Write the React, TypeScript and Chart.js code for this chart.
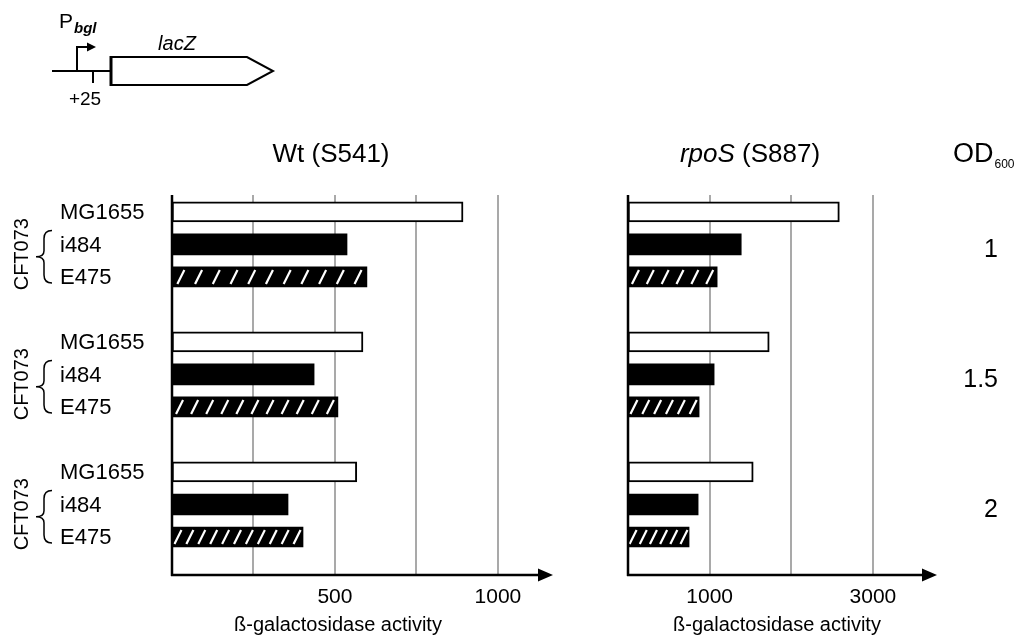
import { useEffect, useRef } from 'react';
import { Chart, registerables } from 'chart.js';

Chart.register(...registerables);

// ---------- data ----------
const strains = ['MG1655', 'i484', 'E475'];
const odLevels = ['1', '1.5', '2'];
const groupLabel = 'CFT073';

const wtMG1655 = [893, 586, 567];
const wtI484 = [537, 436, 356];
const wtE475 = [598, 509, 402];

const rpoSMG1655 = [2589, 1730, 1534];
const rpoSI484 = [1387, 1055, 859];
const rpoSE475 = [1092, 871, 748];

const wtTicks = [250, 500, 750, 1000];
const wtTickLabels = ['', '500', '', '1000'];
const rpoSTicks = [1000, 2000, 3000];
const rpoSTickLabels = ['1000', '', '3000'];

const wtTitle = 'Wt (S541)';
const rpoSTitleItalic = 'rpoS';
const rpoSTitleRest = ' (S887)';
const xTitle = 'ß-galactosidase activity';
const odTitle = 'OD';
const odSub = '600';

const FONT = '"Liberation Sans", Arial, sans-serif';

const slot = (g: number, s: number) => g * 4 + s;
const toPoints = (vals: number[], s: number) => vals.map((v, g) => ({ x: v, y: slot(g, s) }));

function makeDatasets(mg: number[], i4: number[], e4: number[]) {
  return [
    {
      label: strains[0], data: toPoints(mg, 0), backgroundColor: '#ffffff', borderColor: '#000000',
      borderWidth: 2, borderSkipped: false, grouped: false, barThickness: 20,
    },
    {
      label: strains[1], data: toPoints(i4, 1), backgroundColor: '#000000', borderColor: '#000000',
      borderWidth: 0, borderSkipped: false, grouped: false, barThickness: 21,
    },
    {
      label: strains[2], data: toPoints(e4, 2), backgroundColor: '#000000', borderColor: '#000000',
      borderWidth: 0, borderSkipped: false, grouped: false, barThickness: 20,
    },
  ];
}

function panelPlugin(cfg: { hatchCount: number; titleCx: number; left: boolean }) {
  return {
    id: 'panelDecor' + (cfg.left ? 'L' : 'R'),
    afterDatasetsDraw(chart: any) {
      const ctx = chart.ctx as CanvasRenderingContext2D;
      const area = chart.chartArea;
      const yScale = chart.scales.y;
      ctx.save();

      // hatch on E475 bars
      const meta = chart.getDatasetMeta(2);
      meta.data.forEach((el: any) => {
        const p = el.getProps(['x', 'y', 'base', 'height'], true);
        const x0 = Math.min(p.base, p.x);
        const len = Math.abs(p.x - p.base);
        const step = len / cfg.hatchCount;
        ctx.save();
        ctx.beginPath();
        ctx.rect(x0, p.y - p.height / 2, len, p.height);
        ctx.clip();
        ctx.strokeStyle = '#ffffff';
        ctx.lineWidth = 2.2;
        for (let i = 0; i < cfg.hatchCount; i++) {
          const cx = x0 + (i + 0.5) * step;
          ctx.beginPath();
          ctx.moveTo(cx - 3.5, p.y + 7);
          ctx.lineTo(cx + 3.5, p.y - 7);
          ctx.stroke();
        }
        ctx.restore();
      });

      // axes
      ctx.strokeStyle = '#000';
      ctx.fillStyle = '#000';
      ctx.lineWidth = 2.5;
      ctx.beginPath();
      ctx.moveTo(area.left, area.top);
      ctx.lineTo(area.left, area.bottom + 1);
      ctx.stroke();
      ctx.beginPath();
      ctx.moveTo(area.left - 1, area.bottom);
      ctx.lineTo(area.right - 12, area.bottom);
      ctx.stroke();
      ctx.beginPath();
      ctx.moveTo(area.right - 15, area.bottom - 6.5);
      ctx.lineTo(area.right, area.bottom);
      ctx.lineTo(area.right - 15, area.bottom + 6.5);
      ctx.closePath();
      ctx.fill();

      // axis title
      ctx.font = `20px ${FONT}`;
      ctx.textAlign = 'center';
      ctx.textBaseline = 'alphabetic';
      ctx.fillText(xTitle, cfg.titleCx, 631);

      if (cfg.left) {
        // panel title
        ctx.font = `26px ${FONT}`;
        ctx.fillText(wtTitle, 331, 162);

        // strain labels, braces, CFT073
        ctx.textAlign = 'left';
        for (let g = 0; g < odLevels.length; g++) {
          ctx.font = `22px ${FONT}`;
          strains.forEach((s, si) => {
            const py = yScale.getPixelForValue(slot(g, si));
            ctx.fillText(s, 60, py + 7.5);
          });
          const yi = yScale.getPixelForValue(slot(g, 1));
          const ye = yScale.getPixelForValue(slot(g, 2));
          const top = yi - 14;
          const bottom = ye + 6;
          const mid = (top + bottom) / 2;
          ctx.lineWidth = 1.5;
          ctx.beginPath();
          ctx.moveTo(52, top);
          ctx.quadraticCurveTo(44, top, 44, top + 8);
          ctx.lineTo(44, mid - 6);
          ctx.quadraticCurveTo(44, mid, 36, mid);
          ctx.quadraticCurveTo(44, mid, 44, mid + 6);
          ctx.lineTo(44, bottom - 8);
          ctx.quadraticCurveTo(44, bottom, 52, bottom);
          ctx.stroke();

          ctx.save();
          ctx.translate(22, (yi + ye) / 2 - 6.5);
          ctx.rotate(-Math.PI / 2);
          ctx.font = `20px ${FONT}`;
          ctx.textAlign = 'center';
          ctx.textBaseline = 'middle';
          ctx.fillText(groupLabel, 0, 0);
          ctx.restore();
        }

        // gene diagram
        ctx.lineWidth = 2;
        ctx.beginPath();
        ctx.moveTo(52, 71);
        ctx.lineTo(111, 71);
        ctx.stroke();
        ctx.beginPath();
        ctx.moveTo(77, 71);
        ctx.lineTo(77, 47);
        ctx.lineTo(88, 47);
        ctx.stroke();
        ctx.beginPath();
        ctx.moveTo(87, 42.5);
        ctx.lineTo(96, 47);
        ctx.lineTo(87, 51.5);
        ctx.closePath();
        ctx.fill();
        ctx.beginPath();
        ctx.moveTo(93, 71);
        ctx.lineTo(93, 83);
        ctx.stroke();
        ctx.beginPath();
        ctx.moveTo(111, 57);
        ctx.lineTo(247, 57);
        ctx.lineTo(273, 71);
        ctx.lineTo(247, 85);
        ctx.lineTo(111, 85);
        ctx.closePath();
        ctx.stroke();
        ctx.lineWidth = 3;
        ctx.beginPath();
        ctx.moveTo(111, 56);
        ctx.lineTo(111, 86);
        ctx.stroke();

        ctx.textAlign = 'left';
        ctx.font = `21px ${FONT}`;
        ctx.fillText('P', 59, 28);
        ctx.font = `italic bold 15px ${FONT}`;
        ctx.fillText('bgl', 74, 33);
        ctx.font = `19px ${FONT}`;
        ctx.textAlign = 'center';
        ctx.fillText('+25', 85, 105);
        ctx.font = `italic 20px ${FONT}`;
        ctx.fillText('lacZ', 177, 50);
      } else {
        // panel title with italic gene name
        ctx.textAlign = 'left';
        ctx.font = `italic 26px ${FONT}`;
        const w1 = ctx.measureText(rpoSTitleItalic).width;
        ctx.font = `26px ${FONT}`;
        const w2 = ctx.measureText(rpoSTitleRest).width;
        const startX = 160 - (w1 + w2) / 2;
        ctx.font = `italic 26px ${FONT}`;
        ctx.fillText(rpoSTitleItalic, startX, 162);
        ctx.font = `26px ${FONT}`;
        ctx.fillText(rpoSTitleRest, startX + w1, 162);

        // OD600
        ctx.font = `27px ${FONT}`;
        ctx.fillText(odTitle, 363, 162);
        const wOD = ctx.measureText(odTitle).width;
        ctx.font = `12px ${FONT}`;
        ctx.fillText(odSub, 363 + wOD + 1, 168);

        // OD levels
        ctx.font = `25px ${FONT}`;
        ctx.textAlign = 'right';
        odLevels.forEach((lvl, g) => {
          const py = yScale.getPixelForValue(slot(g, 1)) + 4;
          ctx.fillText(lvl, 408, py + 9);
        });
      }
      ctx.restore();
    },
  };
}

function makeConfig(
  datasets: any[], max: number, ticks: number[], tickLabels: string[],
  padding: any, plugin: any,
) {
  return {
    type: 'bar' as const,
    data: { datasets },
    plugins: [plugin],
    options: {
      indexAxis: 'y' as const,
      animation: false as const,
      responsive: false,
      events: [],
      layout: { padding },
      plugins: { legend: { display: false }, tooltip: { enabled: false } },
      scales: {
        y: {
          type: 'linear' as const, min: -0.52, max: 11.17, reverse: true, display: false,
          offset: false, bounds: 'data' as const,
        },
        x: {
          type: 'linear' as const,
          min: 0,
          max,
          position: 'bottom' as const,
          afterBuildTicks: (s: any) => { s.ticks = ticks.map((v) => ({ value: v })); },
          afterFit: (s: any) => { s.height = 64; },
          border: { display: false },
          grid: { color: '#a9a9a9', lineWidth: 2, drawTicks: false },
          ticks: {
            autoSkip: false,
            maxRotation: 0,
            padding: 10,
            color: '#000',
            font: { size: 21, family: FONT },
            callback: (v: any) => tickLabels[ticks.indexOf(Number(v))] ?? '',
          },
        },
      },
    },
  };
}

export default function App() {
  const leftRef = useRef<HTMLCanvasElement>(null);
  const rightRef = useRef<HTMLCanvasElement>(null);

  useEffect(() => {
    Chart.defaults.font.family = FONT;
    const left = new Chart(
      leftRef.current as HTMLCanvasElement,
      makeConfig(
        makeDatasets(wtMG1655, wtI484, wtE475), 1169, wtTicks, wtTickLabels,
        { left: 172, right: 37, top: 195, bottom: 0 },
        panelPlugin({ hatchCount: 11, titleCx: 338, left: true }),
      ) as any,
    );
    const right = new Chart(
      rightRef.current as HTMLCanvasElement,
      makeConfig(
        makeDatasets(rpoSMG1655, rpoSI484, rpoSE475), 3785, rpoSTicks, rpoSTickLabels,
        { left: 38, right: 83, top: 195, bottom: 0 },
        panelPlugin({ hatchCount: 6, titleCx: 187, left: false }),
      ) as any,
    );
    return () => {
      left.destroy();
      right.destroy();
    };
  }, []);

  return (
    <div style={{ position: 'absolute', left: 0, top: 0, width: 1020, height: 639, background: '#fff' }}>
      <canvas ref={leftRef} width={590} height={639}
        style={{ position: 'absolute', left: 0, top: 0, width: 590, height: 639 }} />
      <canvas ref={rightRef} width={430} height={639}
        style={{ position: 'absolute', left: 590, top: 0, width: 430, height: 639 }} />
    </div>
  );
}
